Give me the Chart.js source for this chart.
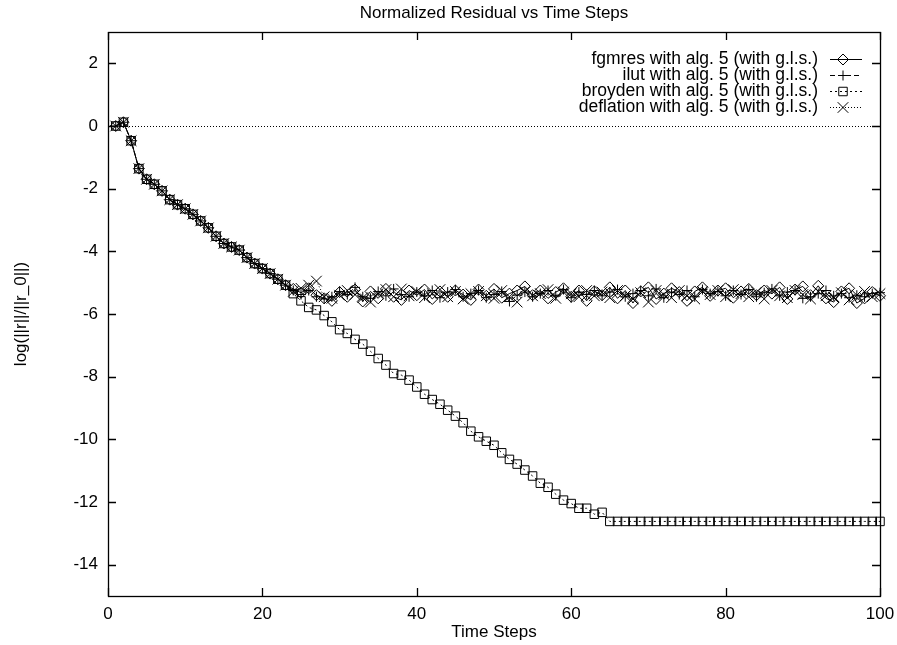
<!DOCTYPE html>
<html>
<head>
<meta charset="utf-8">
<title>Normalized Residual vs Time Steps</title>
<script src="https://cdn.jsdelivr.net/npm/chart.js@4.4.0/dist/chart.umd.min.js"></script>
<style>
  html, body { margin: 0; padding: 0; background: #fff; }
  canvas { display: block; }
</style>
</head>
<body>
<canvas id="chartResidual" width="897" height="645"></canvas>
<script>
const FONT = '"Liberation Sans", Arial, Helvetica, sans-serif';

const chartTitle = 'Normalized Residual vs Time Steps';
const xTitle = 'Time Steps';
const yTitle = 'log(||r||/||r_0||)';

const seriesNames = [
  'fgmres with alg. 5 (with g.l.s.)',
  'ilut with alg. 5 (with g.l.s.)',
  'broyden with alg. 5 (with g.l.s.)',
  'deflation with alg. 5 (with g.l.s.)'
];

const xTicks = [0, 20, 40, 60, 80, 100];
const yTicks = [-14, -12, -10, -8, -6, -4, -2, 0, 2];

// time steps 1..100
const steps = Array.from({ length: 100 }, (_, i) => i + 1);

// steps 1-23, all four runs are on top of each other here
const startRun = [
  0.00, 0.12, -0.47, -1.36, -1.70, -1.86, -2.07, -2.35, -2.51, -2.64,
  -2.82, -3.03, -3.25, -3.52, -3.75, -3.86, -3.96, -4.20, -4.39, -4.55,
  -4.71, -4.89, -5.08
];

// steps 24-100
const fgmresTail = [
  -5.20, -5.32, -5.18, -5.40, -5.50, -5.58, -5.30, -5.45, -5.22, -5.60,
  -5.28, -5.50, -5.20, -5.45, -5.55, -5.25, -5.40, -5.22, -5.52, -5.28,
  -5.45, -5.25, -5.38, -5.55, -5.22, -5.42, -5.20, -5.48, -5.35, -5.25,
  -5.12, -5.40, -5.25, -5.50, -5.30, -5.18, -5.45, -5.25, -5.58, -5.28,
  -5.40, -5.15, -5.50, -5.25, -5.65, -5.28, -5.15, -5.52, -5.35, -5.18,
  -5.30, -5.58, -5.28, -5.15, -5.42, -5.25, -5.18, -5.48, -5.28, -5.20,
  -5.40, -5.25, -5.35, -5.15, -5.52, -5.22, -5.12, -5.40, -5.10, -5.50,
  -5.62, -5.28, -5.18, -5.65, -5.50, -5.30, -5.42
];

const ilutTail = [
  -5.25, -5.38, -5.25, -5.45, -5.52, -5.45, -5.28, -5.38, -5.15, -5.45,
  -5.50, -5.28, -5.42, -5.20, -5.38, -5.45, -5.30, -5.42, -5.25, -5.48,
  -5.30, -5.22, -5.45, -5.35, -5.25, -5.48, -5.38, -5.28, -5.60, -5.40,
  -5.30, -5.45, -5.35, -5.25, -5.42, -5.22, -5.48, -5.30, -5.38, -5.25,
  -5.42, -5.30, -5.22, -5.45, -5.35, -5.25, -5.42, -5.20, -5.48, -5.30,
  -5.38, -5.25, -5.45, -5.22, -5.35, -5.28, -5.42, -5.25, -5.38, -5.22,
  -5.45, -5.32, -5.20, -5.42, -5.30, -5.25, -5.50, -5.45, -5.35, -5.25,
  -5.42, -5.35, -5.48, -5.40, -5.45, -5.35, -5.32
];

const broydenTail = [
  -5.35, -5.58, -5.79, -5.87, -6.05, -6.25, -6.50, -6.62, -6.81, -6.96,
  -7.19, -7.42, -7.63, -7.90, -7.95, -8.11, -8.33, -8.56, -8.73, -8.88,
  -9.07, -9.26, -9.47, -9.74, -9.92, -10.06, -10.19, -10.43, -10.64, -10.79,
  -10.98, -11.17, -11.40, -11.53, -11.75, -11.94, -12.05, -12.20, -12.20, -12.39,
  -12.33, -12.62, -12.62, -12.62, -12.62, -12.62, -12.62, -12.62, -12.62, -12.62,
  -12.62, -12.62, -12.62, -12.62, -12.62, -12.62, -12.62, -12.62, -12.62, -12.62,
  -12.62, -12.62, -12.62, -12.62, -12.62, -12.62, -12.62, -12.62, -12.62, -12.62,
  -12.62, -12.62, -12.62, -12.62, -12.62, -12.62, -12.62
];

const deflationTail = [
  -5.28, -5.18, -5.08, -4.95, -5.45, -5.50, -5.40, -5.25, -5.38, -5.48,
  -5.62, -5.35, -5.22, -5.45, -5.20, -5.42, -5.28, -5.48, -5.35, -5.22,
  -5.45, -5.28, -5.52, -5.35, -5.28, -5.42, -5.50, -5.25, -5.45, -5.62,
  -5.28, -5.42, -5.35, -5.22, -5.50, -5.30, -5.35, -5.45, -5.25, -5.42,
  -5.30, -5.48, -5.25, -5.42, -5.52, -5.32, -5.62, -5.25, -5.38, -5.48,
  -5.25, -5.42, -5.52, -5.28, -5.38, -5.25, -5.45, -5.22, -5.35, -5.45,
  -5.30, -5.52, -5.25, -5.42, -5.48, -5.25, -5.38, -5.52, -5.28, -5.42,
  -5.48, -5.32, -5.55, -5.40, -5.28, -5.45, -5.35
];

const fgmres = startRun.concat(fgmresTail);
const ilut = startRun.concat(ilutTail);
const broyden = startRun.concat(broydenTail);
const deflation = startRun.concat(deflationTail);

// gnuplot-ish line types
const lineStyles = [
  { dash: [], point: 'rectRot', radius: 5.5 },
  { dash: [5, 3], point: 'cross', radius: 5 },
  { dash: [2, 3], point: 'rect', radius: 6 },
  { dash: [1, 2], point: 'crossRot', radius: 7.5 }
];

const allSeries = [fgmres, ilut, broyden, deflation];

const datasets = allSeries.map((vals, i) => ({
  label: seriesNames[i],
  data: vals.map((v, k) => ({ x: steps[k], y: v })),
  borderColor: '#000',
  borderWidth: 1,
  borderDash: lineStyles[i].dash,
  pointStyle: lineStyles[i].point,
  pointRadius: lineStyles[i].radius,
  pointBorderColor: '#000',
  pointBorderWidth: 1,
  pointBackgroundColor: 'rgba(0,0,0,0)',
  tension: 0,
  fill: false,
  clip: 10
}));

// dotted y = 0 line under the data
const zeroLine = {
  id: 'zeroLine',
  beforeDatasetsDraw(chart) {
    const { ctx, chartArea } = chart;
    const y = Math.round(chart.scales.y.getPixelForValue(0)) + 0.5;
    ctx.save();
    ctx.strokeStyle = '#000';
    ctx.lineWidth = 1;
    ctx.setLineDash([1, 2]);
    ctx.beginPath();
    ctx.moveTo(chartArea.left, y);
    ctx.lineTo(chartArea.right, y);
    ctx.stroke();
    ctx.restore();
  }
};

// box, inward ticks on all sides, title and key
const frame = {
  id: 'frame',
  afterDraw(chart) {
    const { ctx, chartArea: a, scales } = chart;
    const tick = 8;
    ctx.save();
    ctx.strokeStyle = '#000';
    ctx.lineWidth = 1.3;
    ctx.setLineDash([]);
    ctx.strokeRect(a.left + 0.5, a.top + 0.5, a.right - a.left, a.bottom - a.top);

    ctx.beginPath();
    xTicks.forEach(v => {
      const x = Math.round(scales.x.getPixelForValue(v)) + 0.5;
      ctx.moveTo(x, a.bottom); ctx.lineTo(x, a.bottom - tick);
      ctx.moveTo(x, a.top); ctx.lineTo(x, a.top + tick);
    });
    yTicks.forEach(v => {
      const y = Math.round(scales.y.getPixelForValue(v)) + 0.5;
      ctx.moveTo(a.left, y); ctx.lineTo(a.left + tick, y);
      ctx.moveTo(a.right, y); ctx.lineTo(a.right - tick, y);
    });
    ctx.stroke();

    ctx.fillStyle = '#000';
    ctx.font = '17px ' + FONT;
    ctx.textAlign = 'center';
    ctx.textBaseline = 'middle';
    ctx.fillText(chartTitle, (a.left + a.right) / 2, 13);

    // key, top right inside the plot
    ctx.font = '17.5px ' + FONT;
    ctx.textAlign = 'right';
    chart.data.datasets.forEach((ds, i) => {
      const y = a.top + 27 + i * 16;
      ctx.fillStyle = '#000';
      ctx.fillText(ds.label, a.right - 62, y);
      ctx.lineWidth = 1;
      ctx.setLineDash(ds.borderDash);
      ctx.beginPath();
      ctx.moveTo(a.right - 50, y + 0.5);
      ctx.lineTo(a.right - 18, y + 0.5);
      ctx.stroke();
      ctx.setLineDash([]);
      ctx.fillStyle = 'rgba(0,0,0,0)';
      Chart.helpers.drawPoint(ctx, {
        pointStyle: ds.pointStyle, radius: ds.pointRadius, rotation: 0, borderWidth: 1
      }, a.right - 37, y + 0.5);
    });
    ctx.restore();
  }
};

const ctx = document.getElementById('chartResidual').getContext('2d');

new Chart(ctx, {
  type: 'line',
  data: { datasets },
  options: {
    responsive: false,
    animation: false,
    events: [],
    layout: { padding: { top: 32, right: 17, left: 0, bottom: 0 } },
    plugins: {
      legend: { display: false },
      tooltip: { enabled: false },
      title: { display: false }
    },
    scales: {
      x: {
        type: 'linear',
        min: 0,
        max: 100,
        afterBuildTicks: s => { s.ticks = xTicks.map(v => ({ value: v })); },
        afterFit: s => { s.height = 49; s.paddingLeft = 0; s.paddingRight = 0; },
        grid: { display: false, drawTicks: false },
        border: { display: false },
        ticks: { color: '#000', font: { family: FONT, size: 17 }, padding: 8, maxRotation: 0, autoSkip: false },
        title: { display: true, text: xTitle, color: '#000', font: { family: FONT, size: 17 }, padding: { top: 0, bottom: 2 } }
      },
      y: {
        type: 'linear',
        min: -15,
        max: 3,
        afterBuildTicks: s => { s.ticks = yTicks.map(v => ({ value: v })); },
        afterFit: s => { s.width = 108; s.paddingTop = 0; s.paddingBottom = 0; },
        grid: { display: false, drawTicks: false },
        border: { display: false },
        ticks: { color: '#000', font: { family: FONT, size: 17 }, padding: 10, autoSkip: false },
        title: { display: true, text: yTitle, color: '#000', font: { family: FONT, size: 17 }, padding: { top: 11, bottom: 0 } }
      }
    }
  },
  plugins: [zeroLine, frame]
});
</script>
</body>
</html>
